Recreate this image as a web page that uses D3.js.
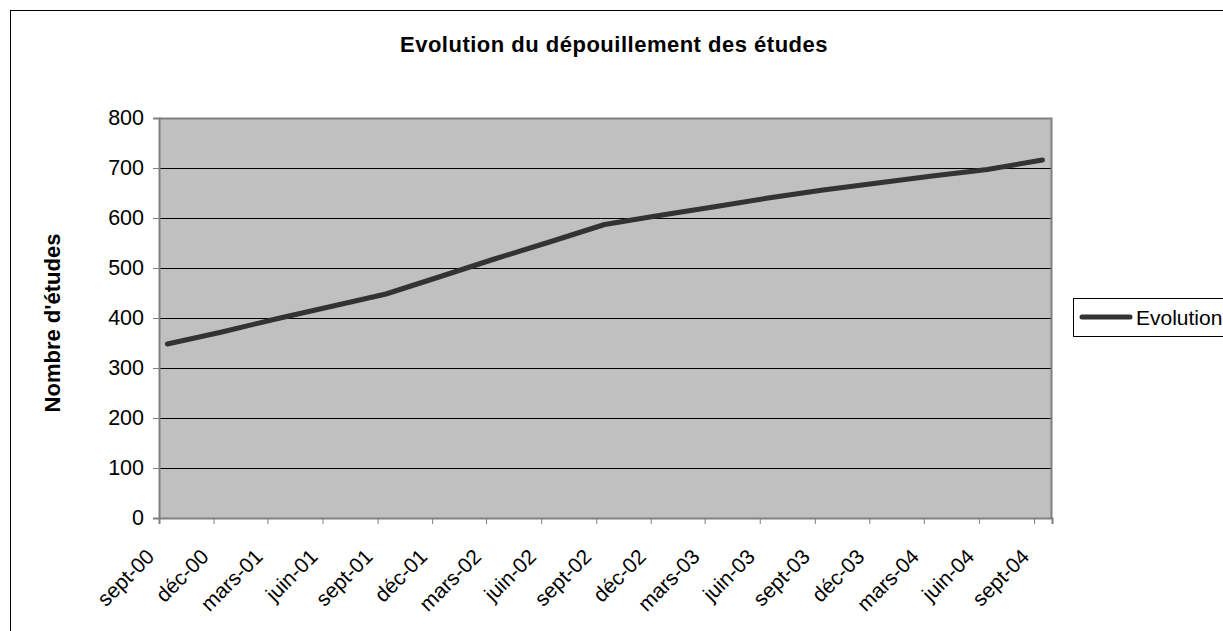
<!DOCTYPE html>
<html>
<head>
<meta charset="utf-8">
<script src="https://cdn.jsdelivr.net/npm/d3@7"></script>
<style>
  body { margin: 0; background: #fff; }
  svg { display: block; font-family: Arial, "Liberation Sans", sans-serif; }
</style>
</head>
<body>
<svg id="chart" width="1223" height="631"></svg>
<script>
// data (one point per quarter, plotted mid-month)
const months = ['2000-09', '2000-12', '2001-03', '2001-06', '2001-09', '2001-12', '2002-03', '2002-06',
  '2002-09', '2002-12', '2003-03', '2003-06', '2003-09', '2003-12', '2004-03', '2004-06', '2004-09'];
const tickLabels = ['sept-00', 'déc-00', 'mars-01', 'juin-01', 'sept-01', 'déc-01', 'mars-02', 'juin-02',
  'sept-02', 'déc-02', 'mars-03', 'juin-03', 'sept-03', 'déc-03', 'mars-04', 'juin-04', 'sept-04'];
const evolution = [348, 372, 398, 423, 448, 483, 518, 552, 587, 605, 622, 640, 656, 670, 684, 697, 716];
const yTicks = [0, 100, 200, 300, 400, 500, 600, 700, 800];

const svg = d3.select('#chart');
const plot = { left: 159, top: 118, right: 1052, bottom: 518 };
const font = 'Arial, "Liberation Sans", sans-serif';

const parseMonth = d3.timeParse('%Y-%m');
const tickDates = months.map(parseMonth);
const pointDates = tickDates.map(d => d3.timeDay.offset(d, 14));

const x = d3.scaleTime()
  .domain([tickDates[0], d3.timeMonth.offset(tickDates[tickDates.length - 1], 1)])
  .range([plot.left, plot.right]);
const y = d3.scaleLinear().domain([0, 800]).range([plot.bottom, plot.top]);

// outer chart frame
svg.append('rect')
  .attr('x', 10.5).attr('y', 10.5)
  .attr('width', 1300).attr('height', 700)
  .attr('fill', '#fff').attr('stroke', '#000').attr('stroke-width', 1);

svg.append('text')
  .attr('x', 614).attr('y', 52)
  .attr('text-anchor', 'middle')
  .attr('font-weight', 'bold')
  .attr('font-size', 22)
  .attr('letter-spacing', 0.5)
  .text('Evolution du dépouillement des études');

// plot background
svg.append('rect')
  .attr('x', plot.left).attr('y', plot.top)
  .attr('width', plot.right - plot.left).attr('height', plot.bottom - plot.top)
  .attr('fill', '#c0c0c0');

// gridlines
svg.append('g')
  .selectAll('line')
  .data(yTicks.filter(v => v > 0 && v < 800))
  .join('line')
  .attr('x1', plot.left).attr('x2', plot.right)
  .attr('y1', d => Math.round(y(d)) + 0.5).attr('y2', d => Math.round(y(d)) + 0.5)
  .attr('stroke', '#000').attr('stroke-width', 1);

// plot border (top/right in grey)
svg.append('path')
  .attr('d', `M${plot.left},${plot.top + 0.5}H${plot.right - 0.5}V${plot.bottom}`)
  .attr('fill', 'none').attr('stroke', '#808080').attr('stroke-width', 2);

// y axis
const yAxis = svg.append('g')
  .attr('transform', `translate(${plot.left},0)`)
  .call(d3.axisLeft(y).tickValues(yTicks).tickSize(6).tickPadding(9).tickFormat(d3.format('d')));
yAxis.select('.domain').attr('stroke', '#808080').attr('stroke-width', 2);
yAxis.selectAll('.tick line').attr('stroke', '#808080');
yAxis.selectAll('.tick text')
  .attr('font-size', 21.5).attr('font-family', font).attr('fill', '#000');

// x axis (date axis)
const xAxis = svg.append('g')
  .attr('transform', `translate(0,${plot.bottom})`)
  .call(d3.axisBottom(x).tickValues(tickDates).tickSize(6).tickFormat((d, i) => tickLabels[i]));
xAxis.select('.domain').attr('stroke', '#808080').attr('stroke-width', 2);
xAxis.selectAll('.tick line').attr('stroke', '#808080');
xAxis.selectAll('.tick text')
  .attr('font-size', 21).attr('font-family', font).attr('fill', '#000')
  .attr('text-anchor', 'end')
  .attr('x', 0).attr('y', 0).attr('dy', null)
  .attr('transform', 'translate(-4,40) rotate(-45)');

// y axis title
svg.append('text')
  .attr('transform', 'translate(60,323) rotate(-90)')
  .attr('text-anchor', 'middle')
  .attr('font-weight', 'bold')
  .attr('font-size', 22)
  .text("Nombre d'études");

// series line
const line = d3.line()
  .x((d, i) => x(pointDates[i]))
  .y(d => y(d));

svg.append('path')
  .datum(evolution)
  .attr('d', line)
  .attr('fill', 'none')
  .attr('stroke', '#333333')
  .attr('stroke-width', 5)
  .attr('stroke-linecap', 'round')
  .attr('stroke-linejoin', 'round');

// legend
const legend = svg.append('g');
legend.append('rect')
  .attr('x', 1073.5).attr('y', 298.5)
  .attr('width', 200).attr('height', 38)
  .attr('fill', '#fff').attr('stroke', '#000');
legend.append('line')
  .attr('x1', 1082).attr('x2', 1130)
  .attr('y1', 317).attr('y2', 317)
  .attr('stroke', '#333333').attr('stroke-width', 5).attr('stroke-linecap', 'round');
legend.append('text')
  .attr('x', 1136).attr('y', 325)
  .attr('font-size', 21)
  .text('Evolution');
</script>
</body>
</html>
